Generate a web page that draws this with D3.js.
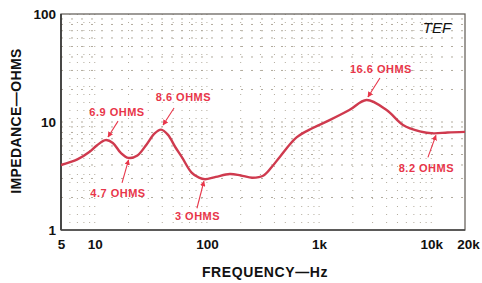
<!DOCTYPE html>
<html><head><meta charset="utf-8">
<script src="https://cdn.jsdelivr.net/npm/d3@7"></script>
<style>
html,body{margin:0;padding:0;background:#fff;}
svg{display:block;}
</style></head>
<body>
<svg id="chart" width="482" height="283"></svg>
<script>
// ---- data ----
const freqHz = [5,7,9,10.5,12.5,14.5,17,20,24,29,34,39,45,52,60,73,85,96,120,160,200,255,320,380,450,630,880,1240,1860,2650,4000,5600,7900,10500,14000,20000];
const impedanceOhms = [4.0,4.5,5.3,6.1,6.8,6.4,5.2,4.65,4.9,6.2,7.8,8.5,7.6,5.9,4.7,3.4,3.05,2.95,3.1,3.3,3.2,3.05,3.2,3.85,4.8,7.2,8.8,10.4,12.9,16.0,12.9,9.4,8.2,7.85,8.0,8.1];
const xTickValues = [5,10,100,1000,10000,20000];
const xTickLabels = ["5","10","100","1k","10k","20k"];
const yTickValues = [1,10,100];
const yTickLabels = ["1","10","100"];
const annoText = ["6.9 OHMS","8.6 OHMS","4.7 OHMS","3 OHMS","16.6 OHMS","8.2 OHMS"];
const annoFreq = [12.5,39,20,96,2650,10500];
const annoOhms = [6.8,8.5,4.65,2.95,16.0,7.85];

// layout (styling/positions)
const W=482,H=283;
const L=61,R=465,T=14,B=230;
const annoLayout = [
  {tip:[2.4,-3.1], tail:[12.4,-19], text:[11.4,-28]},
  {tip:[2,-4.6], tail:[13,-21.6], text:[22.4,-32.6]},
  {tip:[0,2], tail:[-6.5,25], text:[-10.5,35]},
  {tip:[-1,2], tail:[-8,29], text:[-7.4,37]},
  {tip:[1.4,-3], tail:[13.4,-22], text:[14.4,-31]},
  {tip:[2.3,2], tail:[-5.7,24], text:[-7.2,35]}
];

const svg=d3.select("#chart");
const x=d3.scaleLog().domain([5,20000]).range([L,R]);
const y=d3.scaleLog().domain([1,100]).range([B,T]);

// grid (dotted, faint)
const gridX=[];
[10,100,1000,10000].forEach(d=>{for(let k=1;k<10;k++){const v=d*k; if(v>5&&v<20000) gridX.push(v);}});
[6,7,8,9].forEach(v=>gridX.push(v));
const gridY=[];
[1,10].forEach(d=>{for(let k=1;k<10;k++){const v=d*k; if(v>1&&v<100) gridY.push(v);}});
const g=svg.append("g");
g.selectAll(".gx").data(gridX).enter().append("line")
  .attr("x1",d=>x(d)).attr("x2",d=>x(d)).attr("y1",T).attr("y2",B)
  .attr("stroke","#a9a292").attr("stroke-width",0.9).attr("stroke-dasharray","1,7");
g.selectAll(".gy").data(gridY).enter().append("line")
  .attr("y1",d=>y(d)).attr("y2",d=>y(d)).attr("x1",L).attr("x2",R)
  .attr("stroke","#a9a292").attr("stroke-width",0.9).attr("stroke-dasharray","2,8");

// frame
svg.append("rect").attr("x",L).attr("y",T).attr("width",R-L).attr("height",B-T)
  .attr("fill","none").attr("stroke","#6a6660").attr("stroke-width",1.3);
svg.append("line").attr("x1",L).attr("x2",L).attr("y1",T).attr("y2",B).attr("stroke","#333").attr("stroke-width",1.6);
svg.append("line").attr("x1",L).attr("x2",R).attr("y1",B).attr("y2",B).attr("stroke","#444").attr("stroke-width",1.6);

// axes labels
const xAxis=d3.axisBottom(x).tickValues(xTickValues).tickFormat((d,i)=>xTickLabels[i]).tickSize(0).tickPadding(9);
const xa=svg.append("g").attr("transform",`translate(0,${B})`).call(xAxis);
xa.select(".domain").remove();
xa.selectAll("text").attr("font-family","Liberation Sans, Arial, sans-serif").attr("font-weight","bold").attr("font-size","13.5px").attr("fill","#111").attr("dy","0.75em");
xa.selectAll(".tick").filter((d)=>d===20000).select("text").attr("dx","3");
const yAxis=d3.axisLeft(y).tickValues(yTickValues).tickFormat((d,i)=>yTickLabels[i]).tickSize(0).tickPadding(5);
const ya=svg.append("g").attr("transform",`translate(${L},0)`).call(yAxis);
ya.select(".domain").remove();
ya.selectAll("text").attr("font-family","Liberation Sans, Arial, sans-serif").attr("font-weight","bold").attr("font-size","13.5px").attr("fill","#111");

svg.append("text").attr("x",265).attr("y",277).attr("text-anchor","middle")
  .attr("font-family","Liberation Sans, Arial, sans-serif").attr("font-weight","bold").attr("font-size","14px")
  .attr("letter-spacing","0.6px").attr("fill","#111").text("FREQUENCY—Hz");
svg.append("text").attr("transform","translate(21,121) rotate(-90)").attr("text-anchor","middle")
  .attr("font-family","Liberation Sans, Arial, sans-serif").attr("font-weight","bold").attr("font-size","14px")
  .attr("letter-spacing","0.4px").attr("fill","#111").text("IMPEDANCE—OHMS");
svg.append("text").attr("x",437).attr("y",33).attr("text-anchor","middle")
  .attr("font-family","Liberation Sans, Arial, sans-serif").attr("font-style","italic").attr("font-size","15px")
  .attr("fill","#111").text("TEF");

// curve
const pts=freqHz.map((f,i)=>[x(f),y(impedanceOhms[i])]);
svg.append("path").attr("d",d3.line().curve(d3.curveCatmullRom.alpha(0.5))(pts))
  .attr("fill","none").attr("stroke","#cf3a4e").attr("stroke-width",2.4).attr("stroke-linejoin","round");

// annotations
const red="#e8364a";
svg.append("defs").append("marker").attr("id","ah").attr("viewBox","0 0 10 10").attr("refX",9).attr("refY",5)
  .attr("markerWidth",5).attr("markerHeight",5).attr("orient","auto")
  .append("path").attr("d","M0,0 L10,5 L0,10 z").attr("fill",red);
const ag=svg.append("g");
annoText.forEach((t,i)=>{
  const cx=x(annoFreq[i]), cy=y(annoOhms[i]); const lo=annoLayout[i];
  ag.append("line").attr("x1",cx+lo.tail[0]).attr("y1",cy+lo.tail[1]).attr("x2",cx+lo.tip[0]).attr("y2",cy+lo.tip[1])
    .attr("stroke",red).attr("stroke-width",1.1).attr("marker-end","url(#ah)");
  ag.append("text").attr("x",cx+lo.text[0]).attr("y",cy+lo.text[1]).attr("dy","0.35em").attr("text-anchor","middle")
    .attr("font-family","Liberation Sans, Arial, sans-serif").attr("font-weight","bold").attr("font-size","11px")
    .attr("letter-spacing","0.5px").attr("fill",red).text(t);
});
</script>
</body></html>
